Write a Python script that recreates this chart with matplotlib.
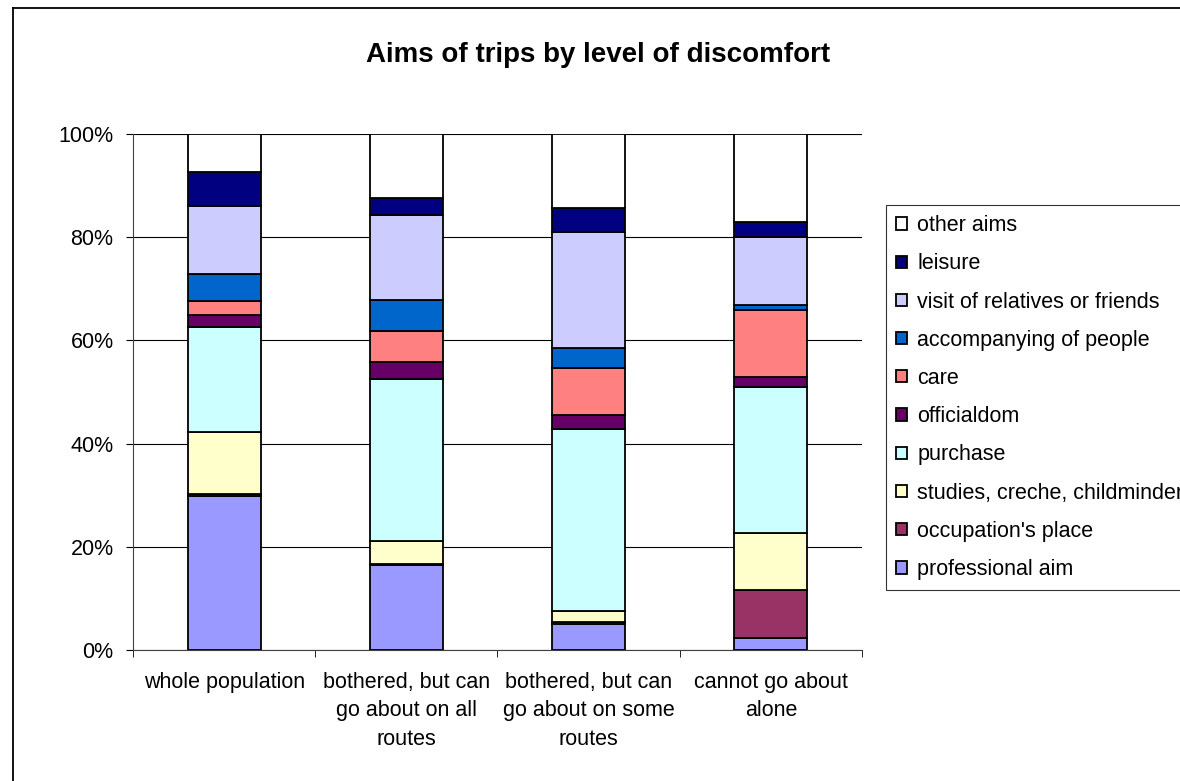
import numpy as np
import matplotlib.pyplot as plt
from matplotlib.lines import Line2D

plt.rcParams['font.family'] = ['Liberation Sans', 'DejaVu Sans']

groups = ['whole population', 'bothered, but can\ngo about on all\nroutes',
          'bothered, but can\ngo about on some\nroutes', 'cannot go about\nalone']

aims = ['professional aim', "occupation's place", 'studies, creche, childminder',
        'purchase', 'officialdom', 'care', 'accompanying of people',
        'visit of relatives or friends', 'leisure', 'other aims']

colors = ['#9999FF', '#993366', '#FFFFCC', '#CCFFFF', '#660066',
          '#FF8080', '#0066CC', '#CCCCFF', '#000080', '#FFFFFF']

# shares in % per group, one list per aim
professional = [29.8, 16.4, 5.0, 2.3]
occupation = [0.4, 0.2, 0.5, 9.4]
studies = [12.1, 4.5, 2.0, 10.9]
purchase = [20.3, 31.5, 35.3, 28.3]
officialdom = [2.4, 3.3, 2.7, 2.0]
care = [2.6, 5.9, 9.1, 12.9]
accompanying = [5.2, 6.0, 3.9, 1.0]
visit = [13.3, 16.6, 22.5, 13.2]
leisure = [6.5, 3.2, 4.7, 2.9]
other = [7.4, 12.4, 14.3, 17.1]

values = [professional, occupation, studies, purchase, officialdom,
          care, accompanying, visit, leisure, other]

fig = plt.figure(figsize=(11.8, 7.81), dpi=100)
# chart area frame, only left and top edges are visible in the picture
fig.lines.append(Line2D([0.011, 0.011], [0, 0.99], transform=fig.transFigure,
                        color='black', linewidth=1.3))
fig.lines.append(Line2D([0.011, 1], [0.99, 0.99], transform=fig.transFigure,
                        color='black', linewidth=1.3))
ax = fig.add_axes([0.1127, 0.1677, 0.6178, 0.6607])

x = np.arange(len(groups))
bottom = np.zeros(len(groups))
handles = []
for name, vals, col in zip(aims, values, colors):
    vals = np.array(vals)
    b = ax.bar(x, vals, width=0.4, bottom=bottom, color=col, edgecolor='black',
               linewidth=1.3, label=name, zorder=3)
    handles.append(b)
    bottom += vals

ax.set_xlim(-0.5, 3.5)
ax.set_ylim(0, 100)
ax.set_yticks(np.arange(0, 101, 20))
ax.set_yticklabels([f'{v}%' for v in range(0, 101, 20)], fontsize=15.5)
ax.yaxis.grid(True, color='black', linewidth=0.8, zorder=0)
ax.set_xticks(x)
ax.set_xticklabels(groups, fontsize=15.5, linespacing=1.45)
ax.set_xticks(np.arange(-0.5, 3.6, 1), minor=True)
ax.tick_params(axis='x', which='major', length=0, pad=16)
ax.tick_params(axis='x', which='minor', length=5, direction='out')
ax.tick_params(axis='y', length=5, direction='out', pad=9)
for s in ['top', 'right']:
    ax.spines[s].set_visible(False)
ax.spines['left'].set_color('#404040')
ax.spines['bottom'].set_color('#404040')

fig.text(0.507, 0.93, 'Aims of trips by level of discomfort', ha='center', va='center',
         fontsize=20, fontweight='bold')

leg = fig.legend(handles[::-1], aims[::-1], loc='upper left',
                 bbox_to_anchor=(0.751, 0.737), fontsize=15.5, frameon=True,
                 fancybox=False, edgecolor='black', labelspacing=0.8,
                 handlelength=0.5, handleheight=0.5, handletextpad=0.5,
                 borderpad=0.45, borderaxespad=0)
leg.get_frame().set_linewidth(0.8)

fig.savefig('out.png', dpi=100)
